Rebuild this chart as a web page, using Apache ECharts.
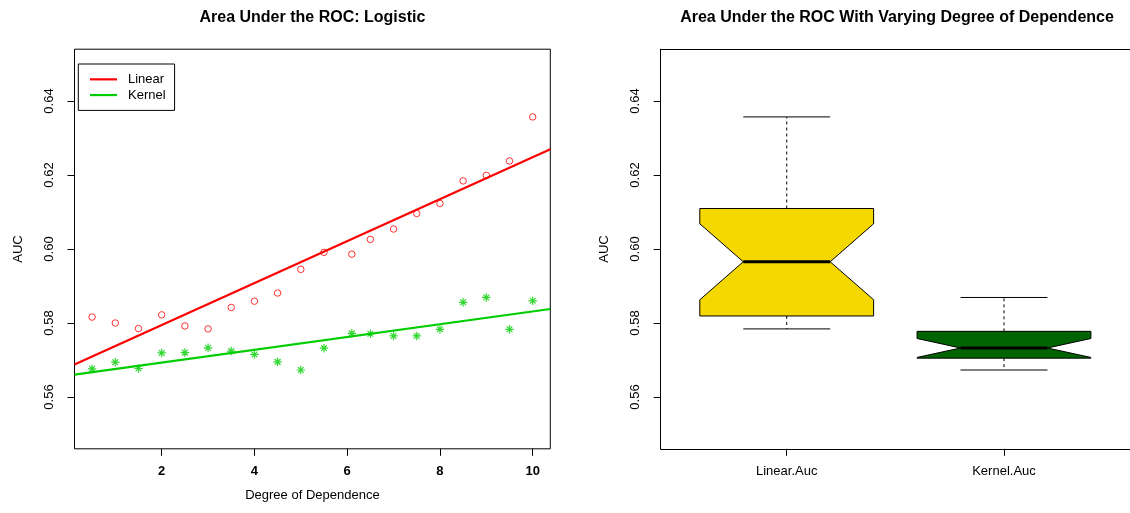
<!DOCTYPE html>
<html><head><meta charset="utf-8">
<script src="https://cdn.jsdelivr.net/npm/echarts@6/dist/echarts.min.js"></script>
<style>html,body{margin:0;padding:0;background:#fff}#c{width:1130px;height:513px}</style>
</head><body><div id="c"></div>
<script>
// ---- data ----
const degree    = [0.5, 1, 1.5, 2, 2.5, 3, 3.5, 4, 4.5, 5, 5.5, 6.1, 6.5, 7, 7.5, 8, 8.5, 9, 9.5, 10];
const linearAuc = [0.5816, 0.5800, 0.5785, 0.5822, 0.5792, 0.5784, 0.5842, 0.5859, 0.5881, 0.5945,
                   0.5991, 0.5986, 0.6026, 0.6054, 0.6096, 0.6123, 0.6184, 0.6199, 0.6238, 0.6357];
const kernelAuc = [0.5676, 0.5694, 0.5677, 0.5719, 0.5720, 0.5733, 0.5724, 0.5715, 0.5695, 0.5673,
                   0.5732, 0.5772, 0.5771, 0.5765, 0.5765, 0.5783, 0.5856, 0.5869, 0.5783, 0.5860];
const seriesNames   = ['Linear', 'Kernel'];
const boxCategories = ['Linear.Auc', 'Kernel.Auc'];
const xTicks = [2, 4, 6, 8, 10];
const yTicks = [0.56, 0.58, 0.60, 0.62, 0.64];
const boxTicks = [1, 2];
const titles = ['Area Under the ROC: Logistic', 'Area Under the ROC With Varying Degree of Dependence'];
const xName = 'Degree of Dependence';
const yName = 'AUC';

// ---- styles / layout ----
const FONT = "'Liberation Sans', Arial, Helvetica, sans-serif";
const RED = '#FF0000', GREEN = '#00CD00';
const boxColors = ['#F5D800', '#006400'];
const xMin = 0.12, xMax = 10.38, yMin = 0.546, yMax = 0.654, bxMin = 0.42, bxMax = 2.58;
const G1 = {left: 74.5, top: 49.2, width: 475.8, height: 399.6};
const G2 = {left: 660.7, top: 49.2, width: 475.2, height: 399.6};

// ---- statistics (as R's lm / boxplot compute them) ----
function lsfit(x, y) {
  const n = x.length;
  const mx = x.reduce((a, b) => a + b, 0) / n, my = y.reduce((a, b) => a + b, 0) / n;
  let sxy = 0, sxx = 0;
  for (let i = 0; i < n; i++) { sxy += (x[i] - mx) * (y[i] - my); sxx += (x[i] - mx) ** 2; }
  const b = sxy / sxx; return [my - b * mx, b];
}
function boxStats(v) {
  const s = v.slice().sort((a, b) => a - b), n = s.length;
  const n4 = Math.floor((n + 3) / 2) / 2;
  const d = [1, n4, (n + 1) / 2, n + 1 - n4, n];
  const f = d.map(k => 0.5 * (s[Math.floor(k) - 1] + s[Math.ceil(k) - 1]));
  const iqr = f[3] - f[1];
  const lo = Math.min(...s.filter(t => t >= f[1] - 1.5 * iqr));
  const hi = Math.max(...s.filter(t => t <= f[3] + 1.5 * iqr));
  const nd = 1.58 * iqr / Math.sqrt(n);
  return [lo, f[1], f[2], f[3], hi, f[2] - nd, f[2] + nd];
}
const fits = [lsfit(degree, linearAuc), lsfit(degree, kernelAuc)];
const fitLine = ab => [[xMin, ab[0] + ab[1] * xMin], [xMax, ab[0] + ab[1] * xMax]];
const boxData = [linearAuc, kernelAuc].map((v, i) => [boxTicks[i]].concat(boxStats(v)));

// ---- title centring ----
const mctx = document.createElement('canvas').getContext('2d');
mctx.font = "bold 16px " + FONT;
const titleLeft = (t, cx) => cx - mctx.measureText(t).width / 2;

const ASTER = 'path://M5,0 L5,10 M0,5 L10,5 M1.6,1.6 L8.4,8.4 M1.6,8.4 L8.4,1.6';
const frameLine = {show: true, lineStyle: {color: '#000', width: 1}};

function yAxisCfg(gi) {
  return {
    type: 'value', gridIndex: gi, min: yMin, max: yMax,
    name: yName, nameLocation: 'middle', nameGap: 50, nameRotate: 90,
    nameTextStyle: {fontFamily: FONT, fontSize: 13, color: '#000'},
    axisLine: gi === 1 ? frameLine : {show: false}, splitLine: {show: false},
    axisTick: {show: true, length: 7, customValues: yTicks, lineStyle: {color: '#000', width: 1}},
    axisLabel: {customValues: yTicks, rotate: 90, margin: 19, fontFamily: FONT, fontSize: 13,
      color: '#000', formatter: v => v.toFixed(2)}
  };
}

const option = {
  animation: false,
  backgroundColor: '#fff',
  title: [
    {text: titles[0], left: titleLeft(titles[0], G1.left + G1.width / 2), top: 10, padding: 0,
     textStyle: {fontFamily: FONT, fontSize: 16, fontWeight: 'bold', color: '#000'}},
    {text: titles[1], left: titleLeft(titles[1], 897), top: 10, padding: 0,
     textStyle: {fontFamily: FONT, fontSize: 16, fontWeight: 'bold', color: '#000'}}
  ],
  legend: {
    data: [{name: seriesNames[0], itemStyle: {color: RED}}, {name: seriesNames[1], itemStyle: {color: GREEN}}],
    orient: 'vertical', left: 78.3, top: 64, padding: [7.5, 9, 7.5, 11.7], itemGap: 0,
    icon: 'rect', itemWidth: 27, itemHeight: 2.2,
    borderColor: '#000', borderWidth: 1, backgroundColor: '#fff',
    textStyle: {fontFamily: FONT, fontSize: 13, color: '#000', lineHeight: 15.7, padding: [0, 0, 0, 6]},
    selectedMode: false
  },
  grid: [
    Object.assign({show: true, borderColor: '#000', borderWidth: 1, backgroundColor: 'transparent'}, G1),
    Object.assign({show: false}, G2)
  ],
  xAxis: [
    {type: 'value', gridIndex: 0, min: xMin, max: xMax,
     name: xName, nameLocation: 'middle', nameGap: 40,
     nameTextStyle: {fontFamily: FONT, fontSize: 13, color: '#000'},
     axisLine: {show: false}, splitLine: {show: false},
     axisTick: {show: true, length: 7, customValues: xTicks, lineStyle: {color: '#000', width: 1}},
     axisLabel: {customValues: xTicks, margin: 16, fontFamily: FONT, fontSize: 13, fontWeight: 'bold', color: '#000'}},
    {type: 'value', gridIndex: 1, min: bxMin, max: bxMax,
     axisLine: frameLine, splitLine: {show: false},
     axisTick: {show: true, length: 7, customValues: boxTicks, lineStyle: {color: '#000', width: 1}},
     axisLabel: {customValues: boxTicks, margin: 16, fontFamily: FONT, fontSize: 13, color: '#000',
       formatter: v => boxCategories[Math.round(v) - 1]}},
    {type: 'value', gridIndex: 1, min: bxMin, max: bxMax, position: 'top',
     axisLine: frameLine, splitLine: {show: false}, axisTick: {show: false}, axisLabel: {show: false}}
  ],
  yAxis: [yAxisCfg(0), yAxisCfg(1)],
  series: [
    {name: 'Linear points', type: 'scatter', xAxisIndex: 0, yAxisIndex: 0, symbol: 'circle', symbolSize: 6.5,
     itemStyle: {color: 'rgba(0,0,0,0)', borderColor: RED, borderWidth: 1},
     data: degree.map((d, i) => [d, linearAuc[i]])},
    {name: 'Kernel points', type: 'scatter', xAxisIndex: 0, yAxisIndex: 0, symbol: ASTER, symbolSize: 8.5,
     itemStyle: {color: GREEN, borderColor: GREEN, borderWidth: 1.2},
     data: degree.map((d, i) => [d, kernelAuc[i]])},
    {name: seriesNames[0], type: 'line', xAxisIndex: 0, yAxisIndex: 0, symbol: 'none',
     lineStyle: {color: RED, width: 2.2}, itemStyle: {color: RED}, data: fitLine(fits[0])},
    {name: seriesNames[1], type: 'line', xAxisIndex: 0, yAxisIndex: 0, symbol: 'none',
     lineStyle: {color: GREEN, width: 2.2}, itemStyle: {color: GREEN}, data: fitLine(fits[1])},
    {name: 'AUC boxplot', type: 'custom', xAxisIndex: 1, yAxisIndex: 1, clip: false,
     encode: {x: 0, y: [1, 2, 3, 4, 5]},
     data: boxData,
     renderItem: function (params, api) {
       const x = api.value(0);
       const lo = api.value(1), q1 = api.value(2), med = api.value(3), q3 = api.value(4),
             hi = api.value(5), nl = api.value(6), nh = api.value(7);
       const hw = 0.4, nw = 0.2;
       const P = (dx, y) => api.coord([x + dx, y]);
       const poly = [P(-hw, q3), P(hw, q3), P(hw, nh), P(nw, med), P(hw, nl), P(hw, q1),
                     P(-hw, q1), P(-hw, nl), P(-nw, med), P(-hw, nh)];
       const seg = (a, b, st) => ({type: 'line', shape: {x1: a[0], y1: a[1], x2: b[0], y2: b[1]}, style: st});
       const dash = {stroke: '#000', lineWidth: 1, lineDash: [3, 3]};
       const solid = {stroke: '#000', lineWidth: 1};
       return {type: 'group', children: [
         seg(P(0, q3), P(0, hi), dash),
         seg(P(0, q1), P(0, lo), dash),
         seg(P(-nw, hi), P(nw, hi), solid),
         seg(P(-nw, lo), P(nw, lo), solid),
         {type: 'polygon', shape: {points: poly}, style: {fill: boxColors[params.dataIndex], stroke: '#000', lineWidth: 1}},
         seg(P(-nw, med), P(nw, med), {stroke: '#000', lineWidth: 3})
       ]};
     }}
  ]
};
const chart = echarts.init(document.getElementById('c'), null, {renderer: 'canvas'});
chart.setOption(option);
</script></body></html>
